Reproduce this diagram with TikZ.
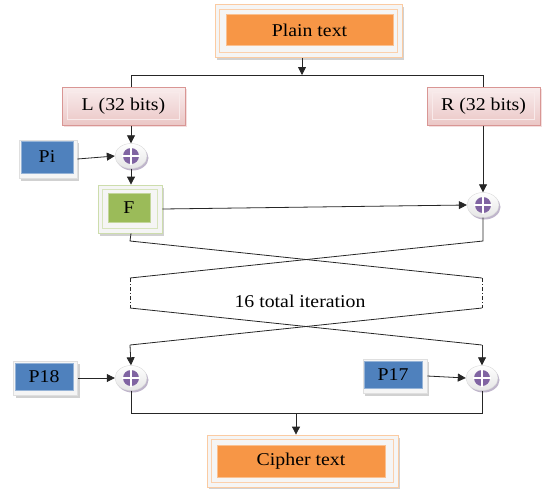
\documentclass[tikz,border=0pt]{standalone}
\usepackage{fontspec}
\setmainfont{Liberation Serif}[FakeStretch=1.1]
\usetikzlibrary{arrows.meta,shadows,calc,shapes.geometric}
\definecolor{orng}{HTML}{F79646}
\definecolor{blu}{HTML}{4F81BD}
\definecolor{grn}{HTML}{9BBB59}
\definecolor{pnk}{HTML}{E6B9B8}
\definecolor{pnkd}{HTML}{D99694}
\definecolor{purp}{HTML}{8064A2}
\tikzset{
  lbl/.style={font=\fontsize{18}{20}\selectfont, text=black},
  frame/.style={draw=#1, line width=0.8pt, fill=gray!8, inner sep=0pt,
    drop shadow={shadow xshift=2pt, shadow yshift=-2.5pt, fill=black!30, opacity=0.6}},
  core/.style={fill=#1, draw=#1!60, line width=0.6pt, inner sep=0pt},
  rim/.style={draw=#1, line width=0.9pt},
  bevel/.style={draw=pnkd, line width=1pt, inner sep=0pt, top color=pnk!25, bottom color=pnk!80,
    drop shadow={shadow xshift=1.5pt, shadow yshift=-1.5pt, fill=pnkd!60}},
  xorc/.style={ellipse, minimum width=32pt, minimum height=25pt, inner sep=0pt,
    top color=white, bottom color=gray!20, draw=gray!30, line width=0.4pt,
    drop shadow={shadow xshift=1.5pt, shadow yshift=-2pt, fill=purp!70!gray},
    path picture={
      \fill[purp] (path picture bounding box.center) circle (8pt);
      \draw[white, line width=2pt] ($(path picture bounding box.center)+(-9pt,0)$) -- ++(18pt,0);
      \draw[white, line width=2pt] ($(path picture bounding box.center)+(0,-9pt)$) -- ++(0,18pt);
    }},
  wire/.style={draw=black!85, line width=0.8pt},
  arr/.style={wire, -{Triangle[length=8pt, width=8pt]}},
}
\begin{document}
\begin{tikzpicture}[x=1pt, y=-1pt]
\useasboundingbox (0,0) rectangle (545,488);

% Plain text
\node[frame=orng!50, minimum width=187pt, minimum height=53pt] (ptout) at (308.5,31) {};
\draw[rim=orng!45] ($(ptout.south west)+(5,-5)$) rectangle ($(ptout.north east)+(-5,5)$);
\node[core=orng, minimum width=167pt, minimum height=31pt] (pt) at (309.5,30) {};
\node[lbl] at (pt) {Plain text};

% L and R
\node[bevel, minimum width=123pt, minimum height=38pt] (L) at (123.5,106) {};
\draw[white!70!pnk, line width=0.8pt] ($(L.south west)+(6,-6)$) rectangle ($(L.north east)+(-6,6)$);
\node[lbl] at (L) {L (32 bits)};
\node[bevel, minimum width=113pt, minimum height=38pt] (R) at (483.5,106) {};
\draw[white!70!pnk, line width=0.8pt] ($(R.south west)+(6,-6)$) rectangle ($(R.north east)+(-6,6)$);
\node[lbl] at (R) {R (32 bits)};

% Pi
\node[frame=gray!25, minimum width=58pt, minimum height=38pt] (piout) at (48,159) {};
\node[core=blu, minimum width=52pt, minimum height=32pt] (pi) at (47,157) {};
\node[lbl] at (pi) {Pi};

% XORs
\node[xorc] (x1) at (131,156) {};
\node[xorc] (x2) at (483,205) {};
\node[xorc] (x3) at (131,378) {};
\node[xorc] (x4) at (482,378) {};

% F
\node[frame=grn!50, minimum width=64pt, minimum height=48pt] (fout) at (130,209) {};
\draw[rim=grn!40] ($(fout.south west)+(5,-5)$) rectangle ($(fout.north east)+(-5,5)$);
\node[core=grn, minimum width=42pt, minimum height=29pt] (f) at (129,207.5) {};
\node[lbl] at (f) {F};

% P18, P17
\node[frame=gray!25, minimum width=64pt, minimum height=34pt] (p18out) at (45.5,378) {};
\node[core=blu, minimum width=58pt, minimum height=27pt] (p18) at (44,376.5) {};
\node[lbl] at (p18) {P18};
\node[frame=gray!25, minimum width=64pt, minimum height=34pt] (p17out) at (395,376) {};
\node[core=blu, minimum width=58pt, minimum height=27pt] (p17) at (393,374.5) {};
\node[lbl] at (p17) {P17};

% Cipher text
\node[frame=orng!50, minimum width=191pt, minimum height=52pt] (ctout) at (302.5,461) {};
\draw[rim=orng!45] ($(ctout.south west)+(5,-5)$) rectangle ($(ctout.north east)+(-5,5)$);
\node[core=orng, minimum width=168pt, minimum height=32pt] (ct) at (301,461) {};
\node[lbl] at (ct) {Cipher text};

% coordinates
\coordinate (split) at (302,75);
\coordinate (la) at (130,241);
\coordinate (lb) at (130,278);
\coordinate (lc) at (130,308);
\coordinate (ld) at (130,345);
\coordinate (ra) at (483,241);
\coordinate (rb) at (482,278);
\coordinate (rc) at (482,308);
\coordinate (rd) at (482,345);
\coordinate (join) at (296,413);

% connectors
\draw[arr] (ptout.south -| split) -- (split);
\draw[wire] (L.north -| x1) -- (split -| x1) -- (split -| x2) -- (R.north -| x2);
\draw[arr] (L.south -| x1) -- (x1.north);
\draw[arr] (piout.east) -- (x1.west);
\draw[arr] (x1.south) -- (fout.north -| x1);
\draw[arr] (R.south -| x2) -- (x2.north);
\draw[arr] (fout.east) -- (x2.west);
\draw[wire] (fout.south -| x1) -- (la) -- (rb);
\draw[wire] (x2.south) -- (ra) -- (lb);
\draw[wire, dash pattern=on 4pt off 2pt on 1pt off 2pt] (lb) -- (lc);
\draw[wire, dash pattern=on 4pt off 2pt on 1pt off 2pt] (rb) -- (rc);
\node[lbl] (iter) at (300,301) {16 total iteration};
\draw[wire] (lc) -- (rd);
\draw[arr] (rd) -- (x4.north);
\draw[wire] (rc) -- (ld);
\draw[arr] (ld) -- (x3.north);
\draw[arr] (p18out.east) -- (x3.west);
\draw[arr] (p17out.east) -- (x4.west);
\draw[wire] (x3.south) -- (x3.south |- join) -- (x4.south |- join) -- (x4.south);
\draw[arr] (join) -- (ctout.north -| join);
\end{tikzpicture}
\end{document}
